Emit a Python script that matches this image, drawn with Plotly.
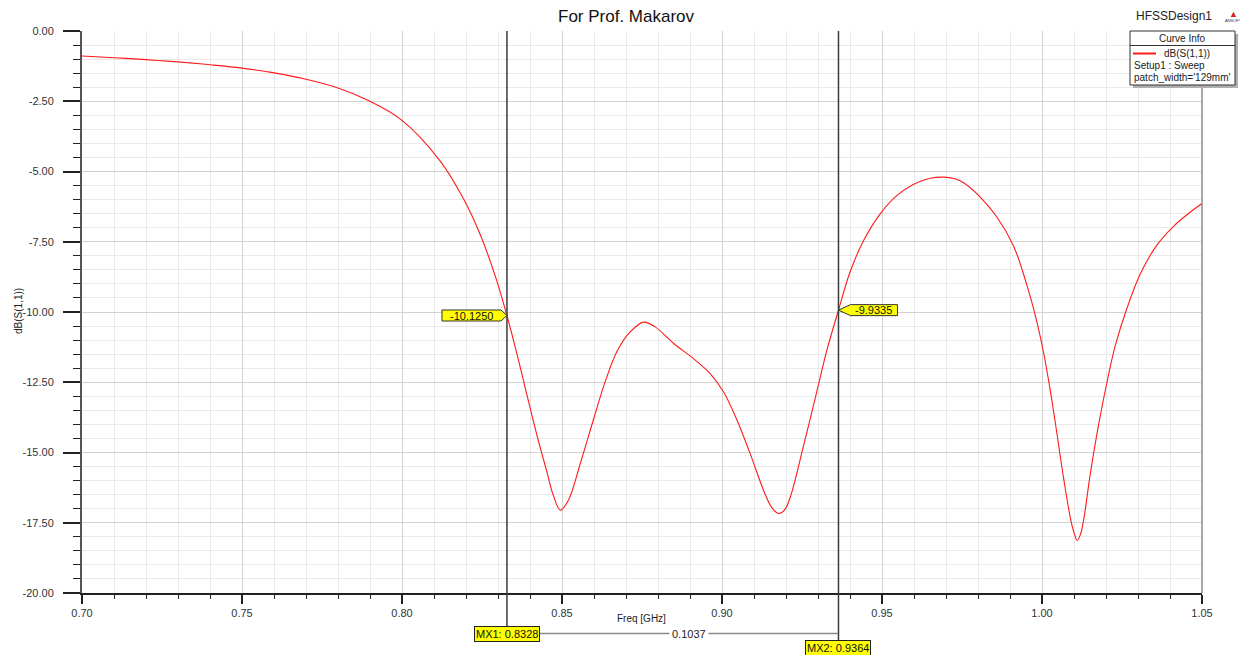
import plotly.graph_objects as go

# ---------------- data ----------------
freq_ghz = [0.700, 0.710, 0.720, 0.730, 0.740, 0.750, 0.760, 0.770, 0.780, 0.789,
            0.800, 0.812, 0.8193, 0.8245, 0.8292, 0.8328, 0.836, 0.8391, 0.8422, 0.8453,
            0.8472, 0.8495, 0.8520, 0.8557, 0.8599, 0.8635, 0.8672, 0.8713, 0.8755, 0.8791,
            0.8849, 0.8911, 0.8963, 0.9005, 0.9047, 0.9088, 0.9130, 0.9155, 0.9177, 0.9195,
            0.9213, 0.9255, 0.9297, 0.9328, 0.9364, 0.9401, 0.9443, 0.9495, 0.9547, 0.9599,
            0.9651, 0.9693, 0.9725, 0.9755, 0.9807, 0.9859, 0.9911, 0.9953, 0.9984, 1.0005,
            1.0026, 1.0047, 1.0068, 1.0089, 1.0100, 1.0110, 1.0120, 1.0130, 1.0151, 1.0177,
            1.0203, 1.0229, 1.0266, 1.0307, 1.0359, 1.0411, 1.0455, 1.0500]
s11_db = [-0.89, -0.95, -1.02, -1.10, -1.20, -1.32, -1.49, -1.72, -2.03, -2.45,
          -3.18, -4.64, -5.99, -7.26, -8.74, -10.125, -11.53, -12.98, -14.40, -15.70,
          -16.50, -17.05, -16.70, -15.40, -13.80, -12.48, -11.40, -10.71, -10.36, -10.53,
          -11.12, -11.66, -12.19, -12.85, -13.85, -15.04, -16.35, -16.95, -17.17, -17.05,
          -16.60, -14.75, -12.80, -11.35, -9.9335, -8.55, -7.45, -6.50, -5.85, -5.45,
          -5.24, -5.20, -5.25, -5.40, -5.91, -6.62, -7.65, -9.05, -10.35, -11.45,
          -12.80, -14.35, -15.95, -17.35, -17.85, -18.13, -17.92, -17.41, -15.75, -14.00,
          -12.50, -11.20, -9.85, -8.65, -7.62, -6.95, -6.52, -6.14]

x_ticks = [0.70, 0.75, 0.80, 0.85, 0.90, 0.95, 1.00, 1.05]
x_tick_labels = ["0.70", "0.75", "0.80", "0.85", "0.90", "0.95", "1.00", "1.05"]
y_ticks = [0.0, -2.5, -5.0, -7.5, -10.0, -12.5, -15.0, -17.5, -20.0]
y_tick_labels = ["0.00", "-2.50", "-5.00", "-7.50", "-10.00", "-12.50", "-15.00", "-17.50", "-20.00"]

marker_names = ["MX1", "MX2"]
marker_freq = [0.8328, 0.9364]
marker_db = [-10.1250, -9.9335]
marker_delta = "0.1037"

title_text = "For Prof. Makarov"
design_name = "HFSSDesign1"
legend_lines = ["dB(S(1,1))", "Setup1 : Sweep", "patch_width='129mm'"]

# ---------------- layout helpers ----------------
OFF = 8                      # page body margin
W, H = 1240, 647
L, R, T, B = 74, 46, 23, 62
PW, PH = W - L - R, H - T - B
FONT = "Liberation Sans, Arial, sans-serif"


def px(x):
    """screen x pixel -> paper fraction"""
    return (x - OFF - L) / PW


def py(y):
    """screen y pixel -> paper fraction"""
    return (H - B - (y - OFF)) / PH


fig = go.Figure()
fig.add_trace(go.Scatter(x=freq_ghz, y=s11_db, mode="lines",
                         line=dict(color="#ff1a1a", width=1.1, shape="spline", smoothing=1.0),
                         showlegend=False, hoverinfo="x+y"))

shapes = []
ann = []

# right border of plot
shapes.append(dict(type="line", xref="paper", yref="paper", x0=1, x1=1, y0=0, y1=1,
                   line=dict(color="#8a8a8a", width=1.5)))

# marker vertical lines and value flags
bottom_px = [627, 641]
for i, (f, d) in enumerate(zip(marker_freq, marker_db)):
    shapes.append(dict(type="line", xref="x", yref="paper", x0=f, x1=f,
                       y0=py(bottom_px[i]), y1=1, line=dict(color="#3a3a3a", width=1.5)))
    if i == 0:
        path = "M0,0 L-6,5.5 L-65,5.5 L-65,-5.5 L-6,-5.5 Z"
        shift = -35
    else:
        path = "M0,0 L12,5.5 L59,5.5 L59,-5.5 L12,-5.5 Z"
        shift = 35.5
    shapes.append(dict(type="path", xref="x", yref="y", xsizemode="pixel", ysizemode="pixel",
                       xanchor=f, yanchor=d, path=path,
                       fillcolor="#ffff00", line=dict(color="#333333", width=1)))
    ann.append(dict(x=f, y=d, xref="x", yref="y", xshift=shift, text=f"{d:.4f}",
                    showarrow=False, font=dict(family=FONT, size=11, color="#111"),
                    xanchor="center", yanchor="middle"))

# bottom marker labels
ann.append(dict(x=marker_freq[0], y=py(634), xref="x", yref="paper",
                text=f"{marker_names[0]}: {marker_freq[0]:.4f}", showarrow=False,
                font=dict(family=FONT, size=11, color="#111"), bgcolor="#ffff00",
                bordercolor="#222", borderwidth=1, borderpad=1,
                xanchor="center", yanchor="middle"))
ann.append(dict(x=marker_freq[1], y=py(647.5), xref="x", yref="paper",
                text=f"{marker_names[1]}: {marker_freq[1]:.4f}", showarrow=False,
                font=dict(family=FONT, size=11, color="#111"), bgcolor="#ffff00",
                bordercolor="#222", borderwidth=1, borderpad=1,
                xanchor="center", yanchor="middle"))
# delta line
shapes.append(dict(type="line", xref="paper", yref="paper", x0=px(539), x1=px(838),
                   y0=py(633.5), y1=py(633.5), line=dict(color="#8a8a8a", width=1.5)))
ann.append(dict(x=px(688.5), y=py(633.5), xref="paper", yref="paper", text=marker_delta,
                showarrow=False, font=dict(family=FONT, size=11, color="#222"),
                bgcolor="white", borderpad=2, xanchor="center", yanchor="middle"))

# title & design name
ann.append(dict(x=px(626), y=py(17), xref="paper", yref="paper", text=title_text,
                showarrow=False, font=dict(family=FONT, size=17, color="#111"),
                xanchor="center", yanchor="middle"))
ann.append(dict(x=px(1174), y=py(16), xref="paper", yref="paper", text=design_name,
                showarrow=False, font=dict(family=FONT, size=12, color="#222"),
                xanchor="center", yanchor="middle"))
ann.append(dict(x=px(1233), y=py(14), xref="paper", yref="paper", text="▲",
                showarrow=False, font=dict(family=FONT, size=9, color="#d42020"),
                xanchor="center", yanchor="middle"))
ann.append(dict(x=px(1233), y=py(21), xref="paper", yref="paper", text="ANSOFT",
                showarrow=False, font=dict(family=FONT, size=4, color="#333"),
                xanchor="center", yanchor="middle"))

# axis titles
ann.append(dict(x=px(641.7), y=py(618), xref="paper", yref="paper", text="Freq [GHz]",
                showarrow=False, font=dict(family=FONT, size=10, color="#222"),
                xanchor="center", yanchor="middle"))
ann.append(dict(x=px(18), y=py(311), xref="paper", yref="paper", text="dB(S(1,1))",
                showarrow=False, textangle=-90, font=dict(family=FONT, size=10, color="#222"),
                xanchor="center", yanchor="middle"))

# curve info box
shapes.append(dict(type="rect", xref="paper", yref="paper", x0=px(1133), x1=px(1238),
                   y0=py(88), y1=py(34), fillcolor="#b0b0b0", line=dict(width=0)))
shapes.append(dict(type="rect", xref="paper", yref="paper", x0=px(1130), x1=px(1235),
                   y0=py(85), y1=py(31), fillcolor="white", line=dict(color="#333", width=1)))
shapes.append(dict(type="line", xref="paper", yref="paper", x0=px(1130), x1=px(1235),
                   y0=py(45.5), y1=py(45.5), line=dict(color="#333", width=1)))
shapes.append(dict(type="line", xref="paper", yref="paper", x0=px(1133), x1=px(1156),
                   y0=py(53.5), y1=py(53.5), line=dict(color="#ff1a1a", width=2)))
ann.append(dict(x=px(1182.5), y=py(39), xref="paper", yref="paper", text="Curve Info",
                showarrow=False, font=dict(family=FONT, size=10, color="#222"),
                xanchor="center", yanchor="middle"))
ann.append(dict(x=px(1162), y=py(53.5), xref="paper", yref="paper", text=legend_lines[0],
                showarrow=False, font=dict(family=FONT, size=10, color="#222"),
                xanchor="left", yanchor="middle"))
ann.append(dict(x=px(1132), y=py(65.5), xref="paper", yref="paper", text=legend_lines[1],
                showarrow=False, font=dict(family=FONT, size=10, color="#222"),
                xanchor="left", yanchor="middle"))
ann.append(dict(x=px(1132), y=py(77.5), xref="paper", yref="paper", text=legend_lines[2],
                showarrow=False, font=dict(family=FONT, size=10, color="#222"),
                xanchor="left", yanchor="middle"))

fig.update_layout(
    width=W, height=H,
    margin=dict(l=L, r=R, t=T, b=B, pad=0),
    paper_bgcolor="white", plot_bgcolor="white",
    font=dict(family=FONT, size=11, color="#333"),
    shapes=shapes, annotations=ann, showlegend=False,
    xaxis=dict(range=[0.70, 1.05], tickvals=x_ticks, ticktext=x_tick_labels,
               ticks="outside", ticklen=9, tickwidth=1.5, tickcolor="#222",
               showline=True, linecolor="#222", linewidth=1.5,
               showgrid=True, gridcolor="#d2d2d2", gridwidth=1, zeroline=False,
               tickfont=dict(family=FONT, size=11, color="#333"),
               minor=dict(dtick=0.01, tick0=0.70, ticks="outside", ticklen=4, tickwidth=1,
                          tickcolor="#222", showgrid=True, gridcolor="#e9e9e9", gridwidth=1)),
    yaxis=dict(range=[-20, 0], tickvals=y_ticks, ticktext=y_tick_labels,
               ticks="outside", ticklen=17, tickwidth=1.5, tickcolor="#222",
               showline=True, linecolor="#555", linewidth=2,
               showgrid=True, gridcolor="#d2d2d2", gridwidth=1, zeroline=False,
               ticklabelstandoff=7,
               tickfont=dict(family=FONT, size=11, color="#333"),
               minor=dict(dtick=0.5, tick0=0, ticks="outside", ticklen=7, tickwidth=1,
                          tickcolor="#222", showgrid=True, gridcolor="#e9e9e9", gridwidth=1)),
)

fig.write_html("out.html")
